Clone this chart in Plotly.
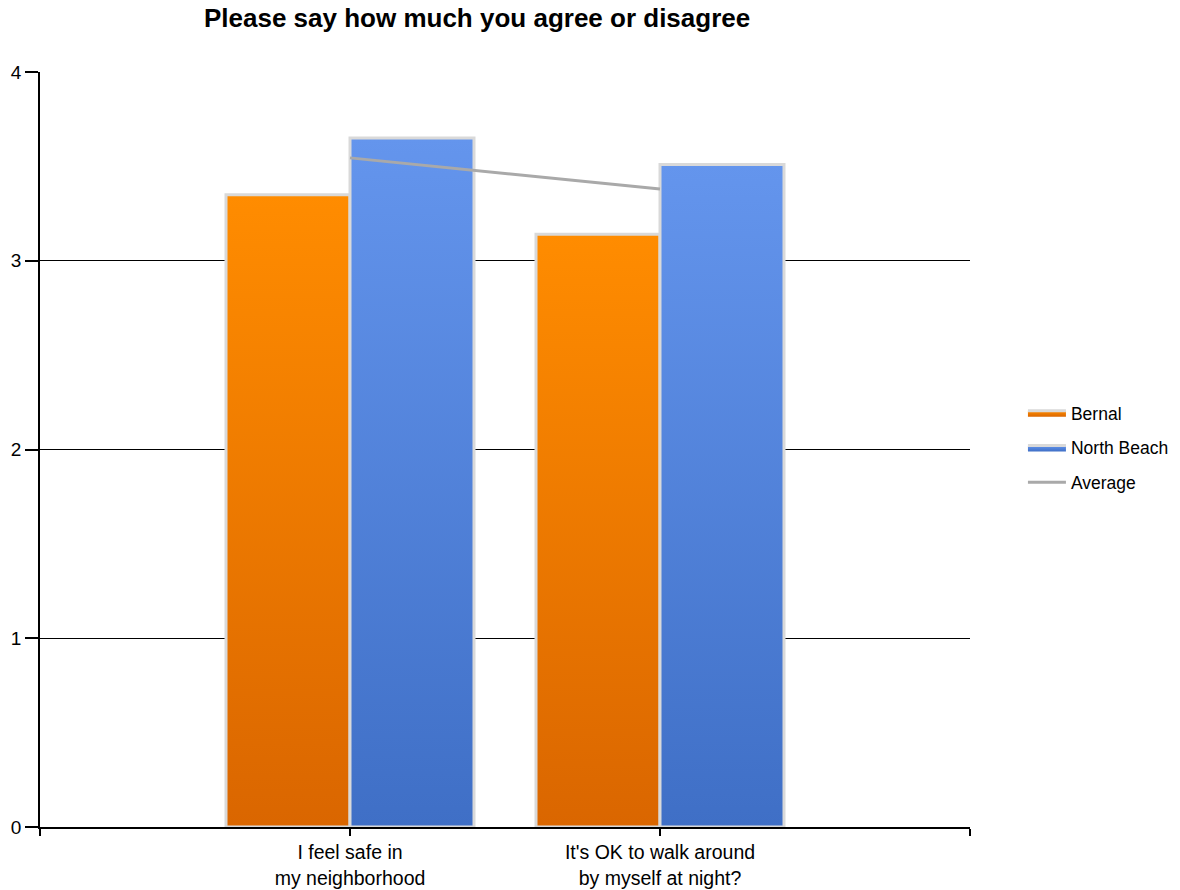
import plotly.graph_objects as go

# Survey data
categories = ["I feel safe in<br>my neighborhood", "It's OK to walk around<br>by myself at night?"]
bernal = [3.35, 3.14]
north_beach = [3.65, 3.51]
average = [3.545, 3.38]

series = [
    ("Bernal", bernal, -0.2, ["#DA6600", "#FF8C00"]),
    ("North Beach", north_beach, 0.2, ["#3F6FC6", "#6495ED"]),
]
bar_width = 0.4

fig = go.Figure()

# Each bar is a filled rectangle so it can carry a vertical gradient
for name, values, offset, (bottom_col, top_col) in series:
    for i, v in enumerate(values):
        x0 = i + offset - bar_width / 2
        x1 = i + offset + bar_width / 2
        fig.add_trace(go.Scatter(
            x=[x0, x1, x1, x0, x0],
            y=[0, 0, v, v, 0],
            mode="lines",
            fill="toself",
            fillgradient=dict(type="vertical", start=0, stop=v,
                              colorscale=[[0, bottom_col], [1, top_col]]),
            line=dict(color="#D9D9D9", width=3),
            name=name,
            legendgroup=name,
            showlegend=(i == 0),
            hoverinfo="skip",
        ))

fig.add_trace(go.Scatter(
    x=list(range(len(categories))),
    y=average,
    mode="lines",
    line=dict(color="#A9A9A9", width=3),
    name="Average",
    legendgroup="Average",
))

fig.update_layout(
    width=1180,
    height=890,
    margin=dict(l=40, r=210, t=72, b=63, autoexpand=False),
    paper_bgcolor="white",
    plot_bgcolor="white",
    font=dict(family="Liberation Sans, Arial, sans-serif", color="#000000"),
    title=dict(
        text="<b>Please say how much you agree or disagree</b>",
        font=dict(size=26, color="#000000"),
        x=0.47, xref="paper", xanchor="center",
        y=0.98, yref="container", yanchor="middle",
    ),
    legend=dict(
        x=0.8669, xref="container", xanchor="left",
        y=0.4968, yref="container", yanchor="middle",
        font=dict(size=17.5),
        tracegroupgap=9,
        itemwidth=38,
    ),
    showlegend=True,
)

fig.update_xaxes(
    range=[-1, 2],
    tickmode="array",
    tickvals=[-1, 0, 1, 2],
    ticktext=[""] + categories + [""],
    ticks="outside",
    ticklen=7,
    tickcolor="#000000",
    tickwidth=1.5,
    tickfont=dict(size=19.5),
    showgrid=False,
    zeroline=False,
    showline=True,
    linecolor="#000000",
    linewidth=1.5,
    automargin=False,
    fixedrange=True,
)

fig.update_yaxes(
    range=[0, 4],
    tickvals=[0, 1, 2, 3, 4],
    ticks="outside",
    ticklen=13,
    tickcolor="#000000",
    tickwidth=1.5,
    tickfont=dict(size=19),
    showgrid=True,
    gridcolor="#000000",
    gridwidth=1.2,
    zeroline=False,
    showline=True,
    linecolor="#000000",
    linewidth=1.5,
    automargin=False,
    fixedrange=True,
)

fig.write_html("out.html")
